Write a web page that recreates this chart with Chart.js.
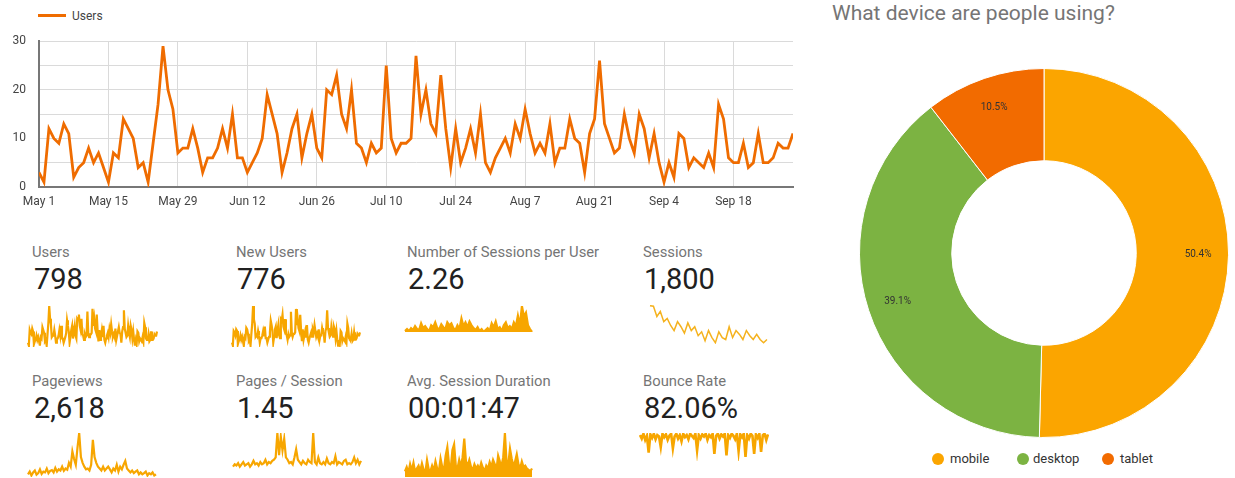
<!DOCTYPE html>
<html>
<head>
<meta charset="utf-8">
<script src="https://cdn.jsdelivr.net/npm/chart.js@4/dist/chart.umd.min.js"></script>
<style>
  html, body { margin: 0; padding: 0; background: #fff; overflow: hidden; }
  body { width: 1235px; height: 478px; position: relative; font-family: Roboto, "Noto Sans", sans-serif; }
  canvas, .txt { position: absolute; }
  .lbl { font-size: 14.8px; line-height: 15px; color: #757575; white-space: nowrap; }
  .val { font-size: 29px; line-height: 29px; color: #212121; white-space: nowrap; }
  #legSwatch { position: absolute; left: 38px; top: 14px; width: 28px; height: 3px; background: #ef6c00; }
  #legText { left: 72px; top: 10px; font-size: 12px; line-height: 12px; color: #444; }
  #donutTitle { left: 832px; top: 3px; font-size: 21px; line-height: 21px; color: #757575; white-space: nowrap; }
  .dot { position: absolute; width: 12px; height: 12px; border-radius: 50%; top: 453px; }
  .dleg { font-size: 13px; line-height: 13px; color: #333; top: 452px; }
</style>
</head>
<body>
<div id="legSwatch"></div>
<div class="txt" id="legText">Users</div>
<canvas id="usersChart" width="800" height="189" style="left:0;top:21px"></canvas>

<div class="txt lbl" style="left:32px;top:245px">Users</div>
<div class="txt val" style="left:34px;top:265px">798</div>
<div class="txt lbl" style="left:236px;top:245px">New Users</div>
<div class="txt val" style="left:237px;top:265px">776</div>
<div class="txt lbl" style="left:407px;top:245px">Number of Sessions per User</div>
<div class="txt val" style="left:408px;top:265px">2.26</div>
<div class="txt lbl" style="left:643px;top:245px">Sessions</div>
<div class="txt val" style="left:644px;top:265px">1,800</div>

<div class="txt lbl" style="left:32px;top:374px">Pageviews</div>
<div class="txt val" style="left:34px;top:394px">2,618</div>
<div class="txt lbl" style="left:236px;top:374px">Pages / Session</div>
<div class="txt val" style="left:237px;top:394px">1.45</div>
<div class="txt lbl" style="left:407px;top:374px">Avg. Session Duration</div>
<div class="txt val" style="left:408px;top:394px">00:01:47</div>
<div class="txt lbl" style="left:643px;top:374px">Bounce Rate</div>
<div class="txt val" style="left:644px;top:394px">82.06%</div>

<canvas id="spUsers" width="131" height="43" style="left:27px;top:305px"></canvas>
<canvas id="spNewUsers" width="130" height="43" style="left:231px;top:305px"></canvas>
<canvas id="spSessPerUser" width="129" height="28" style="left:404px;top:305px"></canvas>
<canvas id="spSessions" width="119" height="41" style="left:649px;top:304px"></canvas>
<canvas id="spPageviews" width="130" height="46" style="left:27px;top:432px"></canvas>
<canvas id="spPagesPerSession" width="130" height="38" style="left:232px;top:432px"></canvas>
<canvas id="spAvgDuration" width="129" height="46" style="left:404px;top:432px"></canvas>
<canvas id="spBounce" width="130" height="30" style="left:639px;top:432px"></canvas>

<div class="txt" id="donutTitle">What device are people using?</div>
<canvas id="deviceChart" width="382" height="370" style="left:853px;top:68px"></canvas>
<div id="deviceLegend"></div>

<script>
// daily users, May 1 .. Sep 30
var users = [3,1,12,10,9,13,11,2,4,5, 8,5,7,4,1,7,6,14,12,10,
  4,5,1,9,17,29,20,16,7,8, 8,12,8,3,6,6,8,12,8,15,
  6,6,3,5,7,10,19,15,11,3, 7,12,15,6,11,15,8,6,20,19,
  23,15,12,20,9,8,5,9,7,8, 25,10,7,9,9,10,27,15,20,13,
  11,23,12,4,12,5,8,12,7,15, 5,3,6,8,10,7,13,10,16,11,
  7,9,7,13,5,8,8,14,10,9, 3,11,14,26,13,10,7,8,15,10,
  7,15,12,6,11,5,1,5,2,11, 10,4,6,5,4,7,4,17,14,6,
  5,5,9,4,5,11,5,5,6,9, 8,8,11];
var tickLabels = ['May 1','May 15','May 29','Jun 12','Jun 26','Jul 10','Jul 24','Aug 7','Aug 21','Sep 4','Sep 18'];

// scorecard sparklines
var newUsers = [3,1,11,10,8,12,11,2,4,5, 8,5,7,4,1,7,6,13,12,9,
  4,5,1,9,16,28,19,16,7,8, 7,11,8,3,6,6,8,11,8,14,
  6,6,3,5,7,10,18,15,11,3, 7,12,14,6,11,15,8,6,19,18,
  22,14,12,19,9,8,5,9,7,8, 24,10,7,9,9,10,26,15,19,13,
  11,22,12,4,12,5,8,11,7,15, 5,3,6,8,10,7,12,10,15,11,
  7,9,7,12,5,8,8,13,10,9, 3,11,13,25,13,10,7,8,14,10,
  7,14,12,6,11,5,1,5,2,11, 10,4,6,5,4,7,4,16,13,6,
  5,5,9,4,5,10,5,5,6,9, 8,8,10];
var sessPerUser = [2.0,2.2,2.0,2.3,2.1,2.5,2.2,2.1,2.8,2.3,2.5,2.2,2.0,2.6,2.4,2.9,2.3,2.2,2.7,2.4,
  2.2,2.9,2.6,2.8,2.3,2.1,2.6,2.2,3.3,2.5,2.9,2.4,3.0,2.6,2.3,2.1,2.4,2.0,2.2,1.9,
  2.1,2.3,2.0,2.8,2.4,3.0,2.2,2.4,2.0,2.6,2.9,2.3,2.5,2.2,2.9,2.5,3.6,2.6,4.6,3.5,3.9,2.6,2.2,1.9];
var sessions = [95,94,78,86,70,75,64,56,70,62,52,68,56,62,48,54,40,56,45,37,
  54,45,42,62,45,56,50,42,56,48,42,50,42,37,42];
var pageviews = [15,22,12,20,25,14,18,28,16,22,20,30,18,24,26,20,32,22,28,25,35,24,30,27,
  45,35,75,55,40,85,123,60,45,35,28,30,25,40,105,60,45,35,30,25,35,25,30,35,28,20,
  30,25,40,22,35,28,40,50,30,25,20,25,18,22,25,15,20,15,18,22,12,18,15,20,12,15];
var pagesPerSession = [1.2,1.3,1.25,1.35,1.2,1.3,1.4,1.25,1.3,1.35,1.2,1.3,1.45,1.3,1.35,1.25,1.4,1.3,1.35,1.5,
  1.3,1.4,1.35,1.45,1.5,1.6,2.65,1.7,2.5,1.9,2.4,1.6,1.5,1.35,1.4,1.3,1.6,1.95,1.5,1.4,
  1.3,1.45,1.35,1.3,1.5,1.4,1.35,2.65,1.4,1.3,1.6,1.35,1.3,1.4,1.3,1.55,1.35,1.3,1.4,1.35,
  1.65,1.3,1.4,1.35,1.3,1.45,1.5,1.3,1.35,1.3,1.4,1.6,1.35,1.5,1.3,1.45];
var avgDuration = [40,70,30,90,45,100,35,60,80,40,95,50,30,120,55,40,80,45,110,60,
  40,130,70,50,150,210,90,60,190,230,80,60,120,70,140,270,110,80,120,70,
  50,90,60,80,55,100,65,40,80,60,105,70,120,90,50,150,110,75,140,310,
  100,90,200,130,75,110,160,90,60,110,70,80,60,50,40,60];
var bounceRate = [97,92,99,90,96,72,98,93,99,91,97,95,80,99,94,98,90,96,99,78,
  95,99,92,97,88,99,94,97,91,99,96,93,99,75,97,92,98,95,99,90,
  97,94,99,70,96,99,92,98,95,99,68,97,93,99,96,91,99,74,98,94,
  99,66,97,92,99,96,70,98,93,99,73,97,99,90,98];

// device split
var devices = ['mobile', 'desktop', 'tablet'];
var deviceShare = [50.4, 39.1, 10.5];
var deviceColors = ['#fba500', '#7cb342', '#f26b00'];

var FONT = 'Roboto, "Noto Sans", sans-serif';
Chart.defaults.font.family = FONT;
Chart.defaults.animation = false;

////// main users line chart //////
new Chart(document.getElementById('usersChart'), {
  type: 'line',
  data: {
    datasets: [{
      label: 'Users',
      data: users.map(function(v, i) { return { x: i, y: v }; }),
      borderColor: '#ef6c00',
      borderWidth: 2.8,
      pointRadius: 0,
      tension: 0
    }]
  },
  options: {
    responsive: false,
    events: [],
    layout: { padding: { top: 0, right: 7, left: 0, bottom: 0 } },
    plugins: { legend: { display: false }, tooltip: { enabled: false } },
    scales: {
      x: {
        type: 'linear', min: 0, max: users.length - 1,
        ticks: {
          stepSize: 14, includeBounds: false, autoSkip: false, maxRotation: 0, padding: 8,
          color: '#444', font: { size: 12 },
          callback: function(v) { return tickLabels[v / 14] || ''; }
        },
        grid: { color: '#dadada', drawTicks: false },
        border: { color: '#777', width: 2 },
        afterFit: function(s) { s.height = 23; }
      },
      y: {
        min: 0, max: 30,
        ticks: {
          stepSize: 5, padding: 13, color: '#444', font: { size: 12 },
          callback: function(v) { return v % 10 === 0 ? v : ''; }
        },
        grid: { color: '#dadada', drawTicks: false },
        border: { color: '#777', width: 2 },
        afterFit: function(s) { s.width = 39; }
      }
    }
  }
});

////// sparklines //////
function spark(id, values, opts) {
  opts = opts || {};
  var color = opts.color || '#f7a600';
  new Chart(document.getElementById(id), {
    type: 'line',
    data: {
      labels: values.map(function(_, i) { return i; }),
      datasets: [{
        data: values,
        borderColor: color,
        backgroundColor: color,
        borderWidth: opts.width || 2.2,
        fill: opts.fill ? 'start' : false,
        pointRadius: 0,
        tension: 0
      }]
    },
    options: {
      responsive: false,
      events: [],
      layout: { padding: 1 },
      plugins: { legend: { display: false }, tooltip: { enabled: false } },
      scales: {
        x: { display: false },
        y: { display: false, min: opts.min, max: opts.max }
      }
    }
  });
}

spark('spUsers', users, { min: 0, max: 29 });
spark('spNewUsers', newUsers, { min: 0, max: 28 });
spark('spSessPerUser', sessPerUser, { min: 1.9, max: 4.6, fill: true });
spark('spSessions', sessions, { min: 35, max: 96, width: 1.5, color: '#f5b21e' });
spark('spPageviews', pageviews, { min: 8, max: 123 });
spark('spPagesPerSession', pagesPerSession, { min: 1.1, max: 2.65 });
spark('spAvgDuration', avgDuration, { min: 0, max: 310, fill: true });
spark('spBounce', bounceRate, { min: 60, max: 100, width: 2.6 });

////// device doughnut //////
var arcLabels = {
  id: 'arcLabels',
  afterDatasetsDraw: function(chart) {
    var ctx = chart.ctx;
    var meta = chart.getDatasetMeta(0);
    var data = chart.data.datasets[0].data;
    var total = data.reduce(function(a, b) { return a + b; }, 0);
    ctx.save();
    ctx.font = '10px ' + FONT;
    ctx.fillStyle = '#333';
    ctx.textAlign = 'center';
    ctx.textBaseline = 'middle';
    meta.data.forEach(function(arc, i) {
      var p = arc.getProps(['x', 'y', 'startAngle', 'endAngle', 'innerRadius', 'outerRadius']);
      var mid = (p.startAngle + p.endAngle) / 2;
      var r = p.innerRadius + (p.outerRadius - p.innerRadius) * 0.67;
      ctx.fillText((data[i] / total * 100).toFixed(1) + '%', p.x + Math.cos(mid) * r, p.y + Math.sin(mid) * r);
    });
    ctx.restore();
  }
};

new Chart(document.getElementById('deviceChart'), {
  type: 'doughnut',
  data: {
    labels: devices,
    datasets: [{
      data: deviceShare,
      backgroundColor: deviceColors,
      borderColor: '#fff',
      borderWidth: 1
    }]
  },
  options: {
    responsive: false,
    events: [],
    cutout: '50%',
    layout: { padding: 0 },
    plugins: { tooltip: { enabled: false }, legend: { display: false } }
  },
  plugins: [arcLabels]
});

// legend under the doughnut
var legendDotX = [932, 1017, 1102];
var legendTextX = [950, 1033, 1120];
var legendBox = document.getElementById('deviceLegend');
devices.forEach(function(name, i) {
  var dot = document.createElement('div');
  dot.className = 'dot';
  dot.style.left = legendDotX[i] + 'px';
  dot.style.background = deviceColors[i];
  legendBox.appendChild(dot);
  var t = document.createElement('div');
  t.className = 'txt dleg';
  t.style.left = legendTextX[i] + 'px';
  t.textContent = name;
  legendBox.appendChild(t);
});
</script>
</body>
</html>
